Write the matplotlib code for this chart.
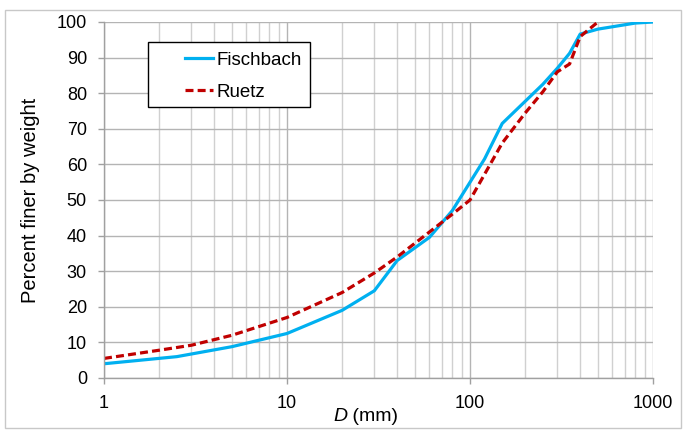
import matplotlib.pyplot as plt
from matplotlib.patches import Rectangle
from matplotlib.ticker import LogLocator, NullFormatter, FixedLocator

plt.rcParams['font.family'] = ['Liberation Sans', 'DejaVu Sans']

# grain size distributions (D in mm, percent finer)
d_fischbach = [1, 2.5, 5, 10, 20, 30, 40, 60, 80, 120, 150, 250, 300, 350, 400, 500, 800, 1000]
p_fischbach = [4, 6, 8.8, 12.5, 19, 24.5, 33, 39.5, 47, 61.5, 71.5, 82.5, 87, 91.2, 96.6, 98, 99.7, 100]

d_ruetz = [1, 2, 3, 5, 10, 20, 30, 40, 60, 80, 100, 150, 200, 250, 300, 350, 400, 500]
p_ruetz = [5.5, 7.8, 9.2, 12, 17, 24, 29.5, 34, 41, 46, 50, 66, 74.4, 80.4, 86, 88.2, 95.9, 100]

fig = plt.figure(figsize=(6.85, 4.32), dpi=100)
ax = fig.add_axes([104/685, 54/432, 549/685, 356/432])

ax.set_xscale('log')
ax.set_xlim(1, 1000)
ax.set_ylim(0, 100)
ax.set_yticks(range(0, 101, 10))
ax.xaxis.set_major_locator(FixedLocator([1, 10, 100, 1000]))
ax.xaxis.set_major_formatter(plt.FuncFormatter(lambda v, p: f'{v:g}'))
ax.xaxis.set_minor_locator(LogLocator(base=10, subs=range(2, 10)))
ax.xaxis.set_minor_formatter(NullFormatter())
ax.grid(True, which='major', color='#b4b4b4', lw=1.0)
ax.grid(True, which='minor', axis='x', color='#d0d0d0', lw=1.0)
ax.set_axisbelow(True)

for s in ['top', 'right']:
    ax.spines[s].set_visible(False)
for s in ['left', 'bottom']:
    ax.spines[s].set_color('#a0a0a0')
    ax.spines[s].set_linewidth(1.0)
ax.tick_params(which='major', length=4.3, width=1, color='#a0a0a0', labelsize=13, pad=8)
ax.tick_params(which='minor', length=0)

ax.plot(d_fischbach, p_fischbach, color='#00B0F0', lw=2.3, label='Fischbach')
ax.plot(d_ruetz, p_ruetz, color='#C00000', lw=2.3, ls=(0, (2.5, 1.3)), label='Ruetz')

# axis titles
ax.text(0.443, -0.085, 'D', transform=ax.transAxes, fontsize=14, style='italic', ha='right', va='top')
ax.text(0.443, -0.085, ' (mm)', transform=ax.transAxes, fontsize=14, ha='left', va='top')
ax.set_ylabel('Percent finer by weight', fontsize=14.5, labelpad=12)

# legend box drawn separately from the entries
ax.add_patch(Rectangle((0.080, 0.761), 0.295, 0.183, transform=ax.transAxes,
                       facecolor='white', edgecolor='black', lw=1.0, zorder=5))
leg = ax.legend(loc='upper left', bbox_to_anchor=(0.1475, 0.916), fontsize=13.5, frameon=False,
                borderpad=0, borderaxespad=0, handlelength=1.5, handletextpad=0.2,
                labelspacing=0.78)
leg.set_zorder(6)

fig.patches.append(Rectangle((5/685, 4/432), 676/685, 418/432, transform=fig.transFigure,
                             fill=False, edgecolor='#c8c8c8', lw=1.0))

fig.savefig('out.png', dpi=100)
